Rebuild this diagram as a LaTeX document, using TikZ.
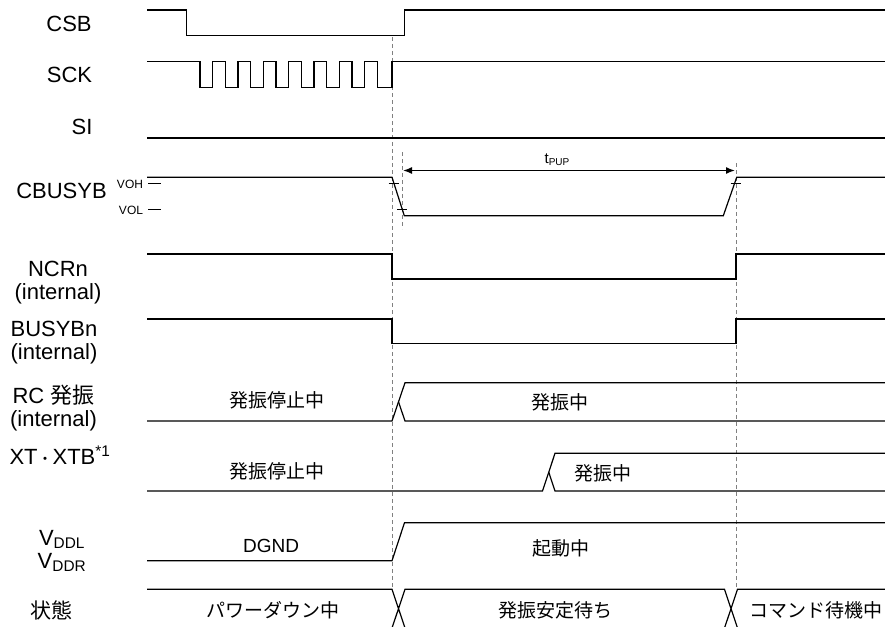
\documentclass[tikz,border=0pt]{standalone}
\usepackage{fontspec}
\setmainfont{Liberation Sans}
\newfontfamily\jp{Noto Sans CJK JP}
\usetikzlibrary{arrows.meta}
\begin{document}
\begin{tikzpicture}[x=1pt,y=-1pt,
  wave/.style={line width=1.2pt, line join=miter},
  tick/.style={line width=0.9pt},
  guide/.style={gray, line width=0.8pt, dash pattern=on 4pt off 3pt},
  lbl/.style={font=\fontsize{22}{23}\selectfont, align=center, inner sep=0pt},
  txt/.style={font=\jp\fontsize{19}{20}\selectfont, inner sep=0pt},
  small/.style={font=\fontsize{12}{13}\selectfont, inner sep=0pt}]
\useasboundingbox (0,0) rectangle (885,626);

% labels
\node[lbl] (lcsb) at (69,24) {CSB};
\node[lbl] (lsck) at (69.5,75) {SCK};
\node[lbl] (lsi) at (82,127) {SI};
\node[lbl] (lcb) at (61.5,190.5) {CBUSYB};
\node[small] (lvoh) at (130,184) {VOH};
\node[small] (lvol) at (131,210) {VOL};
\node[lbl] (lncr) at (58,283) {NCRn\\(internal)};
\node[lbl] (lbusy) at (54,342.5) {BUSYBn\\(internal)};
\node[lbl] (lrc) at (53.5,408) {RC {\jp 発振}\\(internal)};
\node[lbl] (lxt) at (60,455) {XT{\jp\fontsize{15}{15}\selectfont ・}XTB\textsuperscript{*1}};
\node[lbl] (lvdd) at (62,551) {V\textsubscript{DDL}\\V\textsubscript{DDR}};
\node[lbl, font=\jp\fontsize{21}{22}\selectfont] (lst) at (51,610) {状態};

% guides
\draw[guide] (392,37) -- (392,589);
\draw[guide] (736,163) -- (736,589);
\draw[guide] (402,152) -- (402,229);

% CSB
\draw[wave] (147,10) -- (186.7,10) -- (186.7,35.7) -- (404.5,35.7) -- (404.5,10) -- (885,10);
% SCK
\draw[wave] (147,61.7)
  foreach \k in {0,...,6} { -- ({200+25.33*\k},61.7) -- ({200+25.33*\k},87.7) -- ({212.67+25.33*\k},87.7) -- ({212.67+25.33*\k},61.7) }
  -- (377.3,61.7) -- (377.3,87.7) -- (392,87.7) -- (392,61.7) -- (885,61.7);
% SI
\draw[wave] (147,138) -- (885,138);
% CBUSYB
\draw[wave] (147,177.3) -- (392,177.3) -- (404.3,215.7) -- (723.3,215.7) -- (736.7,177.3) -- (885,177.3);
\draw[tick] (148,183) -- (161,183);
\draw[tick] (148,209.3) -- (161,209.3);
\draw[tick] (388.5,183) -- (398.5,183);
\draw[tick] (397,209) -- (407,209);
\draw[tick] (730.5,183) -- (740.5,183);
\coordinate (pa) at (403,170.5);
\coordinate (pb) at (735,170.5);
\draw[{Latex[length=9pt,width=7pt]}-{Latex[length=9pt,width=7pt]}, line width=1.4pt] (pa) -- (pb);
\node[inner sep=0pt] (tpup) at (557,160) {\fontsize{15}{16}\selectfont t\fontsize{10}{11}\selectfont\raisebox{-2pt}{PUP}};
% NCRn
\draw[wave] (147,254) -- (392,254) -- (392,279) -- (736,279) -- (736,254) -- (885,254);
% BUSYBn
\draw[wave] (147,319) -- (392,319) -- (392,343.5) -- (736,343.5) -- (736,319) -- (885,319);
% RC
\draw[wave] (147,421) -- (392,421) -- (405,382.7) -- (885,382.7);
\draw[wave] (398.5,401.85) -- (405,421) -- (885,421);
\node[txt] (rc1) at (277,400) {発振停止中};
\node[txt] (rc2) at (560,402.5) {発振中};
% XT
\draw[wave] (147,491) -- (542.5,491) -- (555,453.3) -- (885,453.3);
\draw[wave] (548.75,472.15) -- (555,491) -- (885,491);
\node[txt] (xt1) at (277,471.5) {発振停止中};
\node[txt] (xt2) at (603,473) {発振中};
% VDD
\draw[wave] (147,560.7) -- (392,560.7) -- (404.5,522.7) -- (885,522.7);
\node[txt, font=\fontsize{19}{20}\selectfont] (dgnd) at (271,545.5) {DGND};
\node[txt] (vdd2) at (560.5,548) {起動中};
% state
\draw[wave] (147,589.3) -- (392,589.3) -- (405,628) (392,628) -- (405,589.3) -- (724.5,589.3) -- (737.5,628) (724.5,628) -- (737.5,589.3) -- (885,589.3);
\node[txt] (st1) at (273,610) {パワーダウン中};
\node[txt] (st2) at (555.5,610) {発振安定待ち};
\node[txt] (st3) at (816,610) {コマンド待機中};
\end{tikzpicture}
\end{document}
